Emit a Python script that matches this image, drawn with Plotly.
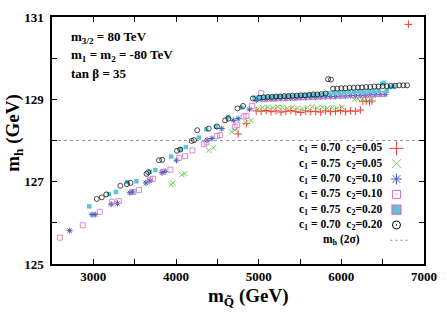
import plotly.graph_objects as go

# ---------------- data ----------------
red_x = [4752, 4851, 4970, 5030, 5090, 5150, 5210, 5270, 5330, 5390, 5450, 5510, 5570,
         5630, 5690, 5750, 5810, 5870, 5930, 5990, 6050, 6110, 6170, 6230,
         6260, 6300, 6340, 6370, 6811]
red_y = [128.16, 128.41, 128.72, 128.71, 128.73, 128.70, 128.72, 128.69, 128.71, 128.73,
         128.70, 128.68, 128.72, 128.70, 128.71, 128.69, 128.72, 128.70, 128.71, 128.73,
         128.70, 128.72, 128.71, 128.74, 128.95, 128.96, 128.94, 128.96, 130.82]

green_x = [3941, 3965, 4071, 4106, 4396, 4455, 4673, 4712, 4843, 4910, 4990, 5049,
           5110, 5170, 5230, 5290, 5350, 5410, 5470, 5530, 5590, 5650, 5710, 5770,
           5830, 5890, 5950, 6010, 6157, 6200, 6250, 6300, 6355]
green_y = [126.93, 126.97, 127.17, 127.20, 127.76, 127.82, 128.21, 128.25, 128.43, 128.49,
           128.76, 128.80, 128.81, 128.79, 128.82, 128.80, 128.78, 128.81, 128.79, 128.77,
           128.80, 128.82, 128.79, 128.81, 128.78, 128.80, 128.79, 128.81, 129.00, 129.01,
           128.99, 129.00, 128.99]

blue_x = [2714, 2983, 3022, 3216, 3292, 3442, 3474, 3636, 3684, 3830, 3869, 4006,
          4376, 4435, 4554, 4693, 4752, 4890, 4970,
          5030, 5090, 5150, 5210, 5270, 5330, 5390, 5450, 5510, 5570, 5630, 5690, 5750,
          5810, 5870, 5930, 5990, 6050, 6110, 6170, 6230, 6290, 6350, 6410, 6470, 6530]
blue_y = [125.81, 126.20, 126.20, 126.45, 126.47, 126.73, 126.75, 126.97, 127.02, 127.22,
          127.25, 127.52, 128.01, 128.05, 128.29, 128.49, 128.53, 128.76, 128.98,
          129.00, 129.00, 129.01, 129.01, 129.02, 129.02, 129.03, 129.03, 129.04, 129.04,
          129.05, 129.05, 129.06, 129.06, 129.07, 129.07, 129.08, 129.08, 129.09, 129.09,
          129.10, 129.10, 129.11, 129.11, 129.12, 129.12]

pink_x = [2595, 2872, 3078, 3228, 3307, 3485, 3553, 3687, 3723, 3842, 3933, 4040, 4111,
          4198, 4337, 4368, 4495, 4534, 4712, 4740, 4819, 4851, 4922, 5030,
          5060, 5120, 5180, 5240, 5300, 5360, 5420, 5480, 5540, 5600, 5660, 5720, 5780,
          5840, 5900, 5960, 6020, 6080, 6140, 6200, 6260, 6320, 6380, 6440, 6500]
pink_y = [125.64, 125.94, 126.27, 126.51, 126.53, 126.75, 126.80, 127.05, 127.07, 127.24,
          127.29, 127.58, 127.62, 127.76, 127.91, 127.95, 128.11, 128.13, 128.33, 128.37,
          128.58, 128.60, 128.84, 129.15,
          129.01, 129.02, 129.02, 129.03, 129.03, 129.04, 129.04, 129.05, 129.05, 129.06,
          129.06, 129.07, 129.07, 129.08, 129.08, 129.09, 129.09, 129.10, 129.10, 129.11,
          129.11, 129.12, 129.12, 129.13, 129.13]

cyan_x = [2951, 3189, 3275, 3410, 3521, 3684, 3750, 3941, 4059, 4119, 4277, 4368, 4483,
          4633, 4792, 4950,
          5010, 5070, 5130, 5190, 5250, 5310, 5370, 5430, 5490, 5550, 5610, 5670, 5730, 5790,
          5850, 5910, 5970, 6030, 6090, 6150, 6210, 6270, 6330, 6390, 6450,
          6495, 6515, 6550, 6590, 6630]
cyan_y = [126.40, 126.70, 126.75, 126.99, 127.01, 127.24, 127.28, 127.61, 127.79, 127.84,
          128.07, 128.27, 128.33, 128.57, 128.80, 129.04,
          129.04, 129.05, 129.05, 129.06, 129.07, 129.07, 129.08, 129.08, 129.09, 129.10,
          129.10, 129.11, 129.11, 129.12,
          129.15, 129.16, 129.16, 129.17, 129.18, 129.18, 129.19, 129.19, 129.20, 129.20,
          129.21, 129.38, 129.40, 129.21, 129.30, 129.31]

circ_x = [3042, 3102, 3157, 3327, 3406, 3450, 3644, 3664, 3794, 3833, 4012, 4050, 4190,
          4218, 4257, 4396, 4495, 4594, 4633, 4744, 4812, 4930, 5009,
          5060, 5110, 5160, 5210, 5260, 5310, 5360, 5410, 5460, 5510, 5560, 5610, 5660,
          5710, 5760, 5810, 5840, 5875,
          5900, 5950, 6000, 6050, 6100, 6150, 6200, 6250, 6300, 6350, 6400, 6450, 6500,
          6550, 6600, 6650, 6700, 6750, 6795]
circ_y = [126.58, 126.62, 126.69, 126.90, 126.94, 126.97, 127.19, 127.23, 127.52, 127.53,
          127.75, 127.78, 127.99, 128.01, 128.25, 128.29, 128.34, 128.49, 128.53, 128.78,
          128.84, 129.02, 129.04,
          129.05, 129.06, 129.06, 129.07, 129.07, 129.08, 129.08, 129.09, 129.09, 129.10,
          129.10, 129.11, 129.12, 129.12, 129.13, 129.14, 129.49, 129.48,
          129.26, 129.26, 129.27, 129.27, 129.28, 129.28, 129.29, 129.29, 129.30, 129.30,
          129.31, 129.31, 129.32, 129.32, 129.33, 129.33, 129.34, 129.34, 129.34]

mh_2sigma = 128.0
x_range = [2500, 7000]
y_range = [125, 131]

legend_labels = [
    "c<sub>1</sub> = 0.70&nbsp; c<sub>2</sub>=0.05",
    "c<sub>1</sub> = 0.75&nbsp; c<sub>2</sub>=0.05",
    "c<sub>1</sub> = 0.70&nbsp; c<sub>2</sub>=0.10",
    "c<sub>1</sub> = 0.75&nbsp; c<sub>2</sub>=0.10",
    "c<sub>1</sub> = 0.75&nbsp; c<sub>2</sub>=0.20",
    "c<sub>1</sub> = 0.70&nbsp; c<sub>2</sub>=0.20",
]
line_label = "m<sub>h</sub> (2σ)"
info_lines = ["m<sub>3/2</sub> = 80 TeV",
              "m<sub>1</sub> = m<sub>2</sub> = -80 TeV",
              "tan β = 35"]

# ---------------- styles ----------------
FONT = "Liberation Serif"
RED, GREEN, BLUE, PINK, CYAN, BLACK = "#f03c3c", "#6fcf4f", "#3f5cc4", "#d070c0", "#5cc6d8", "#000000"

series = [
    (red_x, red_y, dict(symbol="cross-thin-open", size=5.5, color=RED, line=dict(color=RED, width=1))),
    (green_x, green_y, dict(symbol="x-thin-open", size=5, color=GREEN, line=dict(color=GREEN, width=1))),
    (blue_x, blue_y, dict(symbol="asterisk-open", size=5, color=BLUE, line=dict(color=BLUE, width=1))),
    (pink_x, pink_y, dict(symbol="square-open", size=5, color=PINK, line=dict(color=PINK, width=0.8))),
    (cyan_x, cyan_y, dict(symbol="square", size=4.5, color=CYAN, line=dict(width=0))),
    (circ_x, circ_y, dict(symbol="circle-open", size=5, color=BLACK, line=dict(color=BLACK, width=0.7))),
]

legend_markers = [
    dict(symbol="cross-thin-open", size=10, color=RED, line=dict(color=RED, width=1)),
    dict(symbol="x-thin-open", size=9, color=GREEN, line=dict(color=GREEN, width=1)),
    dict(symbol="asterisk-open", size=9, color=BLUE, line=dict(color=BLUE, width=1)),
    dict(symbol="square-open-dot", size=8, color=PINK, line=dict(color=PINK, width=1)),
    dict(symbol="square", size=9, color=CYAN, line=dict(color=PINK, width=1.2)),
    dict(symbol="circle-open-dot", size=8, color=BLACK, line=dict(color=BLACK, width=1)),
]

fig = go.Figure()
for xs, ys, mk in series:
    fig.add_trace(go.Scatter(x=xs, y=ys, mode="markers", marker=mk,
                             showlegend=False, hoverinfo="skip", cliponaxis=True))

# custom legend (symbols on the right of the text, as in the reference)
row_y = [0.468, 0.406, 0.344, 0.282, 0.220, 0.158, 0.096]
for i, (lab, mk) in enumerate(zip(legend_labels, legend_markers)):
    fig.add_trace(go.Scatter(x=[0.926], y=[row_y[i]], mode="markers", marker=mk,
                             xaxis="x2", yaxis="y2", showlegend=False,
                             hoverinfo="skip", cliponaxis=False))
    fig.add_annotation(x=0.892, y=row_y[i], xref="paper", yref="paper", text=lab,
                       showarrow=False, xanchor="right", yanchor="middle",
                       font=dict(family=FONT, size=11.5, color="black", weight="bold"))
fig.add_annotation(x=0.834, y=row_y[6], xref="paper", yref="paper", text=line_label,
                   showarrow=False, xanchor="right", yanchor="middle",
                   font=dict(family=FONT, size=11.5, color="black", weight="bold"))
fig.add_shape(type="line", xref="paper", yref="paper", x0=0.910, x1=0.958,
              y0=row_y[6], y1=row_y[6], line=dict(color="#888888", width=1, dash="2px,3px"))

# m_h 2 sigma line
fig.add_shape(type="line", xref="x", yref="y", x0=x_range[0], x1=x_range[1],
              y0=mh_2sigma, y1=mh_2sigma, line=dict(color="#999999", width=1, dash="3px,3px"),
              layer="below")

# info text
for txt, yy in zip(info_lines, [0.918, 0.844, 0.770]):
    fig.add_annotation(x=0.047, y=yy, xref="paper", yref="paper", text=txt,
                       showarrow=False, xanchor="left", yanchor="middle",
                       font=dict(family=FONT, size=13, color="black", weight="bold"))

# axis titles
fig.add_annotation(x=-0.103, y=0.53, xref="paper", yref="paper",
                   text="m<sub>h</sub> (GeV)", textangle=-90, showarrow=False,
                   xanchor="center", yanchor="middle",
                   font=dict(family=FONT, size=19, color="black", weight="bold"))
fig.add_annotation(x=0.528, y=-0.133, xref="paper", yref="paper",
                   text="m<sub>Q̃</sub> (GeV)", showarrow=False,
                   xanchor="center", yanchor="middle",
                   font=dict(family=FONT, size=19, color="black", weight="bold"))

axis_common = dict(showgrid=False, zeroline=False, showline=True, linecolor="black",
                   linewidth=1.5, mirror="ticks", ticks="inside", ticklen=5,
                   tickwidth=1, tickcolor="black",
                   tickfont=dict(family=FONT, size=13, color="black", weight="bold"))

fig.update_layout(
    width=447, height=319,
    margin=dict(l=52, r=16, t=10, b=55),
    plot_bgcolor="white", paper_bgcolor="white",
    xaxis=dict(range=x_range, tick0=3000, dtick=1000,
               minor=dict(dtick=500, tick0=2500, ticks="inside", ticklen=5, tickcolor="black"),
               ticklabelstandoff=0, **axis_common),
    yaxis=dict(range=y_range, tick0=125, dtick=2,
               minor=dict(dtick=1, tick0=125, ticks="inside", ticklen=5, tickcolor="black"),
               ticklabelstandoff=4, **axis_common),
    xaxis2=dict(overlaying="x", range=[0, 1], visible=False, fixedrange=True),
    yaxis2=dict(overlaying="y", range=[0, 1], visible=False, fixedrange=True),
    showlegend=False,
)

fig.write_html("out.html", config={"displayModeBar": False},
               post_script="document.body.style.margin='0px';document.body.style.overflow='hidden';")
